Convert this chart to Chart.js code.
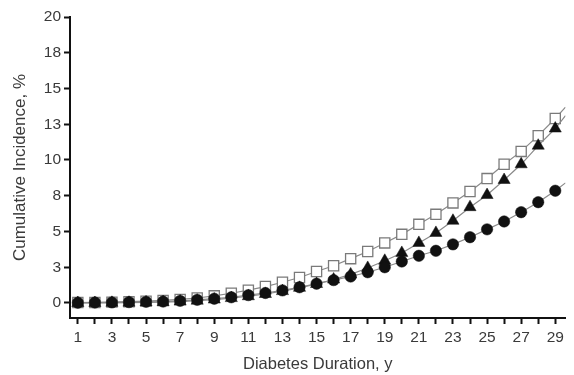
<!DOCTYPE html>
<html>
<head>
<meta charset="utf-8">
<script src="https://cdn.jsdelivr.net/npm/chart.js@4/dist/chart.umd.min.js"></script>
<style>
  html, body { margin: 0; padding: 0; background: #fff; }
  #wrap { width: 574px; height: 375px; }
</style>
</head>
<body>
<div id="wrap"><canvas id="incChart" width="574" height="375"></canvas></div>
<script>
// diabetes duration in years
const years = [1,2,3,4,5,6,7,8,9,10,11,12,13,14,15,16,17,18,19,20,21,22,23,24,25,26,27,28,29];
// fitted curves run on to the right edge of the plot
const edgeYear = 29.6;

// cumulative incidence, %
const openSquares = [0.03,0.04,0.06,0.09,0.13,0.18,0.25,0.35,0.5,0.68,0.9,1.15,1.45,1.78,2.2,2.6,3.1,3.6,4.2,4.8,5.5,6.2,7.0,7.8,8.7,9.7,10.6,11.7,12.9];
const openSquaresEdge = 13.7;
const triangles = [0.0,0.0,0.01,0.02,0.04,0.06,0.1,0.16,0.24,0.34,0.47,0.63,0.83,1.06,1.33,1.64,2.0,2.45,2.95,3.5,4.2,4.9,5.75,6.7,7.55,8.6,9.7,11.0,12.2];
const trianglesEdge = 13.1;
const circles = [0.02,0.03,0.04,0.06,0.08,0.1,0.15,0.22,0.3,0.4,0.55,0.7,0.88,1.1,1.35,1.6,1.85,2.15,2.5,2.9,3.3,3.65,4.1,4.6,5.15,5.7,6.35,7.05,7.85];
const circlesEdge = 8.4;

const FONT = '"Liberation Sans Narrow", "Arial Narrow", "Liberation Sans", Arial, sans-serif';
const TEXT = '#3a3a3a';

const toPoints = (vals, edge) => {
  const pts = years.map((y, i) => ({ x: y, y: vals[i] }));
  pts.push({ x: edgeYear, y: edge });
  return pts;
};

// no marker on the edge point, it only carries the line
const markerSize = (r) => (ctx) => ctx.dataIndex < years.length ? r : 0;

const incChart = new Chart("incChart", {
  type: 'line',
  data: {
    datasets: [
      {
        data: toPoints(circles, circlesEdge),
        borderColor: '#8a8a8a',
        borderWidth: 1.2,
        pointStyle: 'circle',
        pointRadius: markerSize(5.7),
        pointBackgroundColor: '#111',
        pointBorderColor: '#111',
        pointBorderWidth: 0.5
      },
      {
        data: toPoints(triangles, trianglesEdge),
        borderColor: '#8a8a8a',
        borderWidth: 1.2,
        pointStyle: 'triangle',
        pointRadius: markerSize(7),
        pointBackgroundColor: '#111',
        pointBorderColor: '#111',
        pointBorderWidth: 0.5
      },
      {
        data: toPoints(openSquares, openSquaresEdge),
        borderColor: '#8a8a8a',
        borderWidth: 1.2,
        pointStyle: 'rect',
        pointRadius: markerSize(7.2),
        pointBackgroundColor: '#fff',
        pointBorderColor: '#7a7a7a',
        pointBorderWidth: 1.3
      }
    ]
  },
  options: {
    responsive: false,
    animation: false,
    layout: { padding: { top: 17, right: 0, left: 0, bottom: 0 } },
    plugins: {
      legend: { display: false },
      tooltip: { enabled: false }
    },
    scales: {
      x: {
        type: 'linear',
        min: 0.54,
        max: 29.6,
        afterFit: (scale) => { scale.height = 57; },
        border: { display: true, color: '#111', width: 2 },
        grid: { drawOnChartArea: false, drawTicks: true, tickLength: 6, tickColor: '#111', tickWidth: 2 },
        ticks: {
          stepSize: 1,
          includeBounds: false,
          autoSkip: false,
          maxRotation: 0,
          padding: 4,
          color: TEXT,
          font: { family: FONT, size: 15.5 },
          callback: (v) => (v % 2 === 1 ? String(v) : '')
        },
        title: {
          display: true,
          text: 'Diabetes Duration, y',
          color: TEXT,
          font: { family: FONT, size: 16.5 },
          padding: { top: 0, bottom: 1 }
        }
      },
      y: {
        min: -1.05,
        max: 20,
        afterFit: (scale) => { scale.width = 70; },
        border: { display: true, color: '#111', width: 2 },
        grid: { drawOnChartArea: false, drawTicks: true, tickLength: 6, tickColor: '#111', tickWidth: 2 },
        ticks: {
          stepSize: 2.5,
          includeBounds: false,
          padding: 3,
          color: TEXT,
          font: { family: FONT, size: 15.5 },
          callback: (v) => String(Math.round(v))
        },
        title: {
          display: true,
          text: 'Cumulative Incidence, %',
          color: TEXT,
          font: { family: FONT, size: 17 },
          padding: { top: 10, bottom: 0 }
        }
      }
    }
  }
});
</script>
</body>
</html>
